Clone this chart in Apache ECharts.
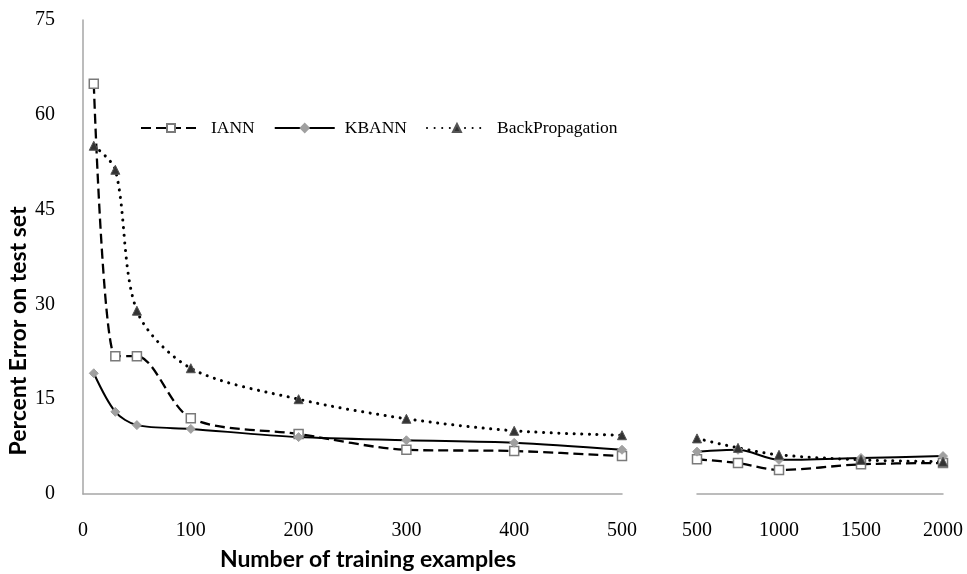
<!DOCTYPE html>
<html>
<head>
<meta charset="utf-8">
<script src="https://cdn.jsdelivr.net/npm/echarts@6/dist/echarts.min.js"></script>
<style>
html,body{margin:0;padding:0;background:#fff;}
#chart{width:967px;height:574px;}
</style>
</head>
<body>
<div id="chart"></div>
<script>
// ---- data ----
const seriesNames = ['IANN', 'KBANN', 'BackPropagation'];
const leftX = [10, 30, 50, 100, 200, 300, 400, 500];
const iannLeft = [64.9, 21.8, 21.8, 12.0, 9.5, 7.0, 6.8, 6.0];
const kbannLeft = [19.1, 13.0, 10.9, 10.3, 9.0, 8.5, 8.1, 7.0];
const bpLeft = [55.1, 51.3, 29.0, 19.9, 15.0, 11.9, 10.0, 9.3];
const rightX = [500, 750, 1000, 1500, 2000];
const iannRight = [5.5, 4.9, 3.8, 4.7, 4.9];
const kbannRight = [6.7, 7.0, 5.4, 5.7, 6.0];
const bpRight = [8.8, 7.3, 6.2, 5.4, 5.1];
const yTitle = 'Percent Error on test set';
const xTitle = 'Number of training examples';

const pair = (xs, ys) => xs.map((x, i) => [x, ys[i]]);

const serif = 'Liberation Serif';
const axisGray = '#a6a6a6';
const plain = v => String(v);

const styles = {
  IANN: {
    lineStyle: {color: '#000', width: 2.3, type: [10, 5]},
    symbol: 'rect', symbolSize: 9,
    itemStyle: {color: '#fff', borderColor: '#7a7a7a', borderWidth: 1.5}
  },
  KBANN: {
    lineStyle: {color: '#000', width: 2, type: 'solid'},
    symbol: 'diamond', symbolSize: 9,
    itemStyle: {color: '#a0a0a0', borderColor: '#a0a0a0', borderWidth: 1}
  },
  BackPropagation: {
    lineStyle: {color: '#000', width: 3, type: [0.1, 7.5], cap: 'round'},
    symbol: 'triangle', symbolSize: 9,
    itemStyle: {color: '#333', borderColor: '#555', borderWidth: 1}
  }
};

function mk(name, data, idx) {
  const s = styles[name];
  return {
    name: name, type: 'line', data: data,
    xAxisIndex: idx, yAxisIndex: idx,
    smooth: 0.3,
    symbol: s.symbol, symbolSize: s.symbolSize,
    showAllSymbol: true,
    lineStyle: s.lineStyle, itemStyle: s.itemStyle,
    emphasis: {disabled: true},
    animation: false
  };
}

const chart = echarts.init(document.getElementById('chart'));
chart.setOption({
  backgroundColor: '#fff',
  animation: false,
  grid: [
    {left: 83, right: 345, top: 20, bottom: 80},
    {left: 697, right: 24, top: 20, bottom: 80}
  ],
  legend: {
    data: seriesNames,
    left: 135, top: 114,
    itemWidth: 60, itemHeight: 10, itemGap: 19,
    textStyle: {fontFamily: serif, fontSize: 17.5, color: '#000', padding: [0, 0, 0, 5]}
  },
  xAxis: [
    {
      type: 'value', gridIndex: 0, min: 0, max: 500, interval: 100,
      axisLine: {show: true, lineStyle: {color: axisGray, width: 1.5}},
      axisTick: {show: false}, splitLine: {show: false},
      axisLabel: {fontFamily: serif, fontSize: 20, color: '#000', margin: 27, formatter: plain}
    },
    {
      type: 'value', gridIndex: 1, min: 500, max: 2000, interval: 500,
      axisLine: {show: true, onZero: false, lineStyle: {color: axisGray, width: 1.5}},
      axisTick: {show: false}, splitLine: {show: false},
      axisLabel: {fontFamily: serif, fontSize: 20, color: '#000', margin: 27, formatter: plain}
    }
  ],
  yAxis: [
    {
      type: 'value', gridIndex: 0, min: 0, max: 75, interval: 15,
      axisLine: {show: true, lineStyle: {color: axisGray, width: 1.5}},
      axisTick: {show: false}, splitLine: {show: false},
      axisLabel: {fontFamily: serif, fontSize: 20, color: '#000', margin: 28, formatter: plain}
    },
    {
      type: 'value', gridIndex: 1, min: 0, max: 75, interval: 15,
      axisLine: {show: false}, axisTick: {show: false}, splitLine: {show: false},
      axisLabel: {show: false}
    }
  ],
  graphic: [
    {
      type: 'text', x: 19, y: 331, rotation: Math.PI / 2,
      style: {text: yTitle, font: 'bold 23px Lato', fill: '#000', textAlign: 'center', textVerticalAlign: 'middle'}
    },
    {
      type: 'text', x: 368, y: 560,
      style: {text: xTitle, font: 'bold 23px Lato', fill: '#000', textAlign: 'center', textVerticalAlign: 'middle'}
    }
  ],
  series: [
    mk('IANN', pair(leftX, iannLeft), 0),
    mk('KBANN', pair(leftX, kbannLeft), 0),
    mk('BackPropagation', pair(leftX, bpLeft), 0),
    mk('IANN', pair(rightX, iannRight), 1),
    mk('KBANN', pair(rightX, kbannRight), 1),
    mk('BackPropagation', pair(rightX, bpRight), 1)
  ]
});
</script>
</body>
</html>
